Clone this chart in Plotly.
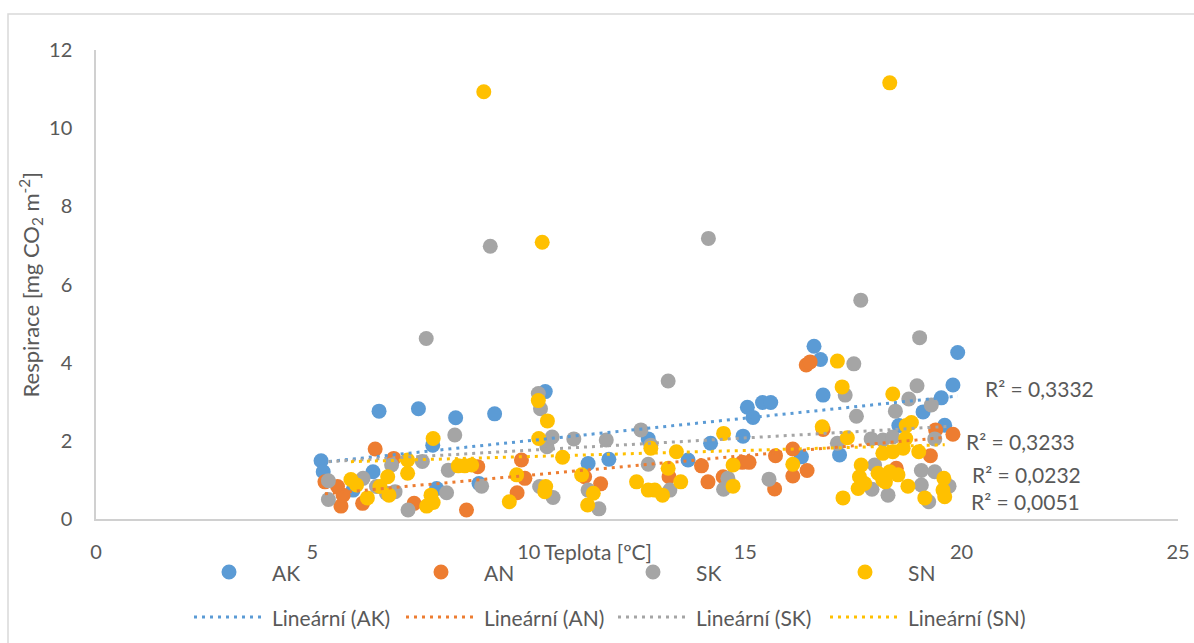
import numpy as np
import plotly.graph_objects as go

# ---- data: soil respiration vs. temperature, four plots ----
series_names = ["AK", "AN", "SK", "SN"]
series_colors = ["#5B9BD5", "#ED7D31", "#A5A5A5", "#FFC000"]

AK_x = [5.20, 5.25, 5.94, 6.40, 6.54, 7.45, 7.78, 7.87, 8.31, 8.85, 9.21, 10.38, 11.37, 11.85,
        12.76, 13.68, 14.20, 14.95, 15.05, 15.18, 15.40, 15.59, 16.30, 16.59, 16.74, 16.80,
        17.18, 18.55, 19.11, 19.53, 19.61, 19.80, 19.91]
AK_y = [1.49, 1.21, 0.74, 1.21, 2.76, 2.82, 1.89, 0.78, 2.59, 0.91, 2.69, 3.26, 1.42, 1.53,
        2.05, 1.51, 1.94, 2.12, 2.86, 2.60, 2.98, 2.98, 1.59, 4.42, 4.08, 3.17,
        1.64, 2.39, 2.74, 3.10, 2.40, 3.43, 4.26]

AN_x = [5.29, 5.58, 5.66, 5.71, 6.16, 6.45, 6.88, 7.35, 8.56, 8.82, 9.73, 9.83, 9.91, 11.29,
        11.66, 13.24, 13.99, 14.14, 14.49, 14.93, 15.09, 15.68, 15.70, 16.10, 16.10, 16.43,
        16.41, 16.50, 16.80, 18.49, 19.28, 19.40, 19.80]
AN_y = [0.95, 0.83, 0.33, 0.61, 0.40, 1.79, 1.55, 0.40, 0.23, 1.34, 0.67, 1.51, 1.04, 1.08,
        0.90, 1.08, 1.36, 0.95, 1.08, 1.45, 1.45, 0.77, 1.62, 1.79, 1.10, 1.24,
        3.94, 4.02, 2.29, 1.30, 1.62, 2.28, 2.17]

SK_x = [5.37, 5.37, 6.17, 6.48, 6.71, 6.83, 6.91, 7.21, 7.54, 7.63, 8.10, 8.14, 8.29, 8.91,
        9.11, 10.22, 10.27, 10.25, 10.42, 10.54, 10.56, 11.04, 11.37, 11.62, 11.79, 12.59,
        12.76, 12.82, 13.22, 13.26, 14.15, 14.50, 14.60, 15.55, 17.13, 17.31, 17.51, 17.57,
        17.67, 17.91, 17.93, 17.99, 18.18, 18.30, 18.41, 18.47, 18.78, 18.97, 19.03, 19.07,
        19.07, 19.24, 19.30, 19.38, 19.38, 19.71]
SK_y = [0.98, 0.50, 1.04, 0.83, 0.66, 1.38, 0.70, 0.23, 1.47, 4.62, 0.67, 1.25, 2.15, 0.84,
        6.98, 3.21, 2.82, 0.83, 1.85, 2.10, 0.55, 2.05, 0.74, 0.26, 2.02, 2.28,
        1.40, 1.89, 3.53, 0.74, 7.18, 0.76, 1.04, 1.02, 1.94, 3.17, 3.97, 2.63,
        5.60, 2.05, 0.76, 1.38, 2.02, 0.61, 2.10, 2.76, 3.07, 3.41, 4.64, 1.24,
        0.87, 0.44, 2.92, 2.05, 1.21, 0.84]

SN_x = [5.89, 6.02, 6.27, 6.56, 6.74, 6.77, 7.20, 7.20, 7.64, 7.74, 7.79, 7.79, 8.37, 8.52,
        8.68, 8.96, 9.55, 9.72, 10.22, 10.23, 10.31, 10.37, 10.39, 10.43, 10.78, 11.22,
        11.36, 11.49, 12.49, 12.76, 12.82, 12.91, 13.09, 13.22, 13.41, 13.51, 14.50, 14.72,
        14.72, 16.10, 16.78, 17.13, 17.24, 17.26, 17.36, 17.61, 17.64, 17.68, 17.76, 18.07,
        18.18, 18.18, 18.24, 18.34, 18.34, 18.41, 18.41, 18.53, 18.65, 18.71, 18.72, 18.76,
        18.84, 19.01, 19.15, 19.57, 19.59, 19.61]
SN_y = [1.01, 0.87, 0.54, 0.83, 1.08, 0.61, 1.51, 1.17, 0.33, 0.61, 0.42, 2.06, 1.36, 1.36,
        1.38, 10.93, 0.44, 1.13, 3.03, 2.06, 7.08, 0.70, 0.83, 2.51, 1.58, 1.13,
        0.36, 0.66, 0.95, 0.74, 1.81, 0.74, 0.61, 1.30, 1.72, 0.95, 2.19, 1.38,
        0.84, 1.40, 2.36, 4.04, 3.38, 0.54, 2.08, 0.78, 1.08, 1.38, 0.91, 1.17,
        1.68, 1.00, 0.95, 11.16, 1.21, 3.20, 1.72, 1.13, 1.81, 2.06, 2.39, 0.84,
        2.47, 1.72, 0.54, 0.74, 1.04, 0.57]

r2_labels = ["R² = 0,3332", "R² = 0,3233", "R² = 0,0232", "R² = 0,0051"]
r2_pos = [(20.49, 3.34), (20.06, 1.98), (20.20, 1.14), (20.17, 0.44)]

x_title = "Teplota [ºC]"
y_title = "Respirace [mg CO<sub>2</sub> m<sup>-2</sup>]"
trend_prefix = "Lineární"

xs = [AK_x, AN_x, SK_x, SN_x]
ys = [AK_y, AN_y, SK_y, SN_y]

# ---- geometry (pixels of the 1194 x 643 canvas) ----
W, H = 1194, 643
PL, PR, PT, PB = 96, 1178, 50, 519
FONT = "Lato"
TXT = "#595959"
DOTS = "3px,5px"


def fx(px):
    return (px - PL) / (PR - PL)


def fy(py):
    return (PB - py) / (PB - PT)


fig = go.Figure()

for name, color, x, y in zip(series_names, series_colors, xs, ys):
    fig.add_trace(go.Scatter(
        x=x, y=y, mode="markers", name=name, showlegend=False,
        marker=dict(size=15, color=color, line=dict(width=0)),
        cliponaxis=False,
    ))

# least-squares trendlines over each series' x span
for name, color, x, y in zip(series_names, series_colors, xs, ys):
    xa, ya = np.array(x), np.array(y)
    k, q = np.polyfit(xa, ya, 1)
    xe = np.array([xa.min(), xa.max()])
    fig.add_trace(go.Scatter(
        x=xe, y=k * xe + q, mode="lines", showlegend=False,
        name=f"{trend_prefix} ({name})",
        line=dict(color=color, width=3, dash=DOTS),
    ))

annotations = []
for txt, (ax, ay) in zip(r2_labels, r2_pos):
    annotations.append(dict(x=ax, y=ay, xref="x", yref="y", text=txt, showarrow=False,
                            xanchor="left", yanchor="middle",
                            font=dict(family=FONT, size=21, color=TXT)))

# axis titles
annotations.append(dict(x=fx(542), y=fy(551), xref="paper", yref="paper", text=x_title,
                        showarrow=False, xanchor="left", yanchor="middle",
                        font=dict(family=FONT, size=21, color=TXT)))
annotations.append(dict(x=fx(30), y=0.5, xref="paper", yref="paper", text=y_title,
                        showarrow=False, textangle=-90, xanchor="center", yanchor="middle",
                        font=dict(family=FONT, size=22, color=TXT)))

shapes = []
# chart-area frame
shapes.append(dict(type="rect", xref="paper", yref="paper",
                   x0=fx(8), x1=fx(W + 10), y0=fy(H + 10), y1=fy(14),
                   line=dict(color="#D9D9D9", width=1.5), fillcolor="rgba(0,0,0,0)", layer="below"))

# two-row legend: markers, then trendlines
col0, colw, row1, row2 = 194, 212, 572, 617
for i, (name, color) in enumerate(zip(series_names, series_colors)):
    left = col0 + colw * i
    cx, r = left + 35, 7.5
    shapes.append(dict(type="circle", xref="paper", yref="paper",
                       x0=fx(cx - r), x1=fx(cx + r), y0=fy(row1 + r), y1=fy(row1 - r),
                       fillcolor=color, line=dict(width=0)))
    annotations.append(dict(x=fx(left + 76), y=fy(row1), xref="paper", yref="paper", text=name,
                            showarrow=False, xanchor="left", yanchor="middle",
                            font=dict(family=FONT, size=21, color=TXT)))
    shapes.append(dict(type="line", xref="paper", yref="paper",
                       x0=fx(left), x1=fx(left + 70), y0=fy(row2), y1=fy(row2),
                       line=dict(color=color, width=3, dash=DOTS)))
    annotations.append(dict(x=fx(left + 76), y=fy(row2), xref="paper", yref="paper",
                            text=f"{trend_prefix} ({name})",
                            showarrow=False, xanchor="left", yanchor="middle",
                            font=dict(family=FONT, size=21, color=TXT)))

fig.update_layout(
    width=W, height=H,
    margin=dict(l=PL, r=W - PR, t=PT, b=H - PB, autoexpand=False),
    paper_bgcolor="white", plot_bgcolor="white",
    font=dict(family=FONT, size=20, color=TXT),
    annotations=annotations, shapes=shapes,
    showlegend=False,
)
fig.update_xaxes(range=[0, 25], dtick=5, showgrid=False, zeroline=False, automargin=False,
                 showline=True, linecolor="#D0D0D0", linewidth=1.5,
                 ticks="", ticklabelstandoff=14,
                 tickfont=dict(family=FONT, size=20, color=TXT))
fig.update_yaxes(range=[0, 12], dtick=2, showgrid=False, zeroline=False, automargin=False,
                 showline=True, linecolor="#D0D0D0", linewidth=1.5,
                 ticks="", ticklabelstandoff=18,
                 tickfont=dict(family=FONT, size=20, color=TXT))

fig.write_html("out.html")
